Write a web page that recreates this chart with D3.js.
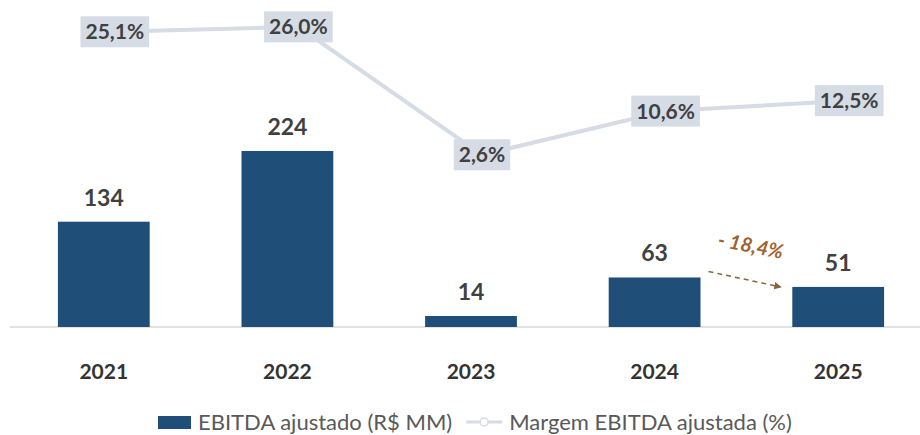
<!DOCTYPE html>
<html>
<head>
<meta charset="utf-8">
<script src="https://cdn.jsdelivr.net/npm/d3@7"></script>
<style>
  html, body { margin: 0; padding: 0; background: #fff; }
  svg { display: block; font-family: Lato, "Open Sans", sans-serif; }
</style>
</head>
<body>
<div id="chart"></div>
<script>
// EBITDA ajustado x margem

const years = ['2021', '2022', '2023', '2024', '2025'];
const ebitda = [134, 224, 14, 63, 51];            // R$ MM
const margem = [25.1, 26.0, 2.6, 10.6, 12.5];     // %
const ebitdaLabels = ['134', '224', '14', '63', '51'];
const margemLabels = ['25,1%', '26,0%', '2,6%', '10,6%', '12,5%'];
const variacaoLabel = '- 18,4%';
const legendLabels = ['EBITDA ajustado (R$ MM)', 'Margem EBITDA ajustada (%)'];

const W = 920, H = 435;
const barColor = '#1f4e79';
const lineColor = '#d6dce5';
const textColor = '#404040';
const brown = '#a0622d';

const svg = d3.select('#chart').append('svg')
    .attr('width', W)
    .attr('height', H);

const x = d3.scaleBand()
    .domain(years)
    .range([12, 930])
    .paddingInner(0.5)
    .paddingOuter(0.25);

const yBar = d3.scaleLinear().domain([0, 240]).range([327, 138.4]);
const yLine = d3.scaleLinear().domain([0, 30]).range([169, 5]);
const lineShift = 11;

// linha de base
svg.append('line')
    .attr('x1', 10).attr('x2', W)
    .attr('y1', yBar(0)).attr('y2', yBar(0))
    .style('stroke', '#d9d9d9')
    .style('stroke-width', 1.5);

// barras
svg.selectAll('.bar')
    .data(ebitda)
    .enter()
    .append('rect')
    .attr('class', 'bar')
    .attr('x', (d, i) => x(years[i]))
    .attr('y', d => yBar(d))
    .attr('width', x.bandwidth())
    .attr('height', d => yBar(0) - yBar(d))
    .style('fill', barColor);

svg.selectAll('.bar-label')
    .data(ebitda)
    .enter()
    .append('text')
    .attr('class', 'bar-label')
    .attr('x', (d, i) => x(years[i]) + x.bandwidth() / 2)
    .attr('y', d => yBar(d) - 16)
    .attr('text-anchor', 'middle')
    .style('font-size', '23px')
    .style('font-weight', 700)
    .style('fill', textColor)
    .text((d, i) => ebitdaLabels[i]);

// eixo x (anos)
const xAxis = svg.append('g')
    .attr('transform', `translate(0,${yBar(0)})`)
    .call(d3.axisBottom(x).tickSize(0).tickPadding(37));
xAxis.select('.domain').remove();
xAxis.selectAll('text')
    .style('font-family', 'Lato, sans-serif')
    .style('font-size', '21px')
    .style('font-weight', 700)
    .style('fill', '#333');

// linha da margem
const lineGen = d3.line()
    .x((d, i) => x(years[i]) + x.bandwidth() / 2 + lineShift)
    .y(d => yLine(d));

svg.append('path')
    .datum(margem)
    .attr('d', lineGen)
    .style('fill', 'none')
    .style('stroke', lineColor)
    .style('stroke-width', 4);

const mLabels = svg.selectAll('.m-label')
    .data(margem)
    .enter()
    .append('g')
    .attr('class', 'm-label')
    .attr('transform', (d, i) => `translate(${x(years[i]) + x.bandwidth() / 2 + lineShift},${yLine(d)})`);

mLabels.append('rect')
    .style('fill', lineColor);

mLabels.append('text')
    .attr('text-anchor', 'middle')
    .attr('dy', '0.36em')
    .style('font-size', '21px')
    .style('font-weight', 700)
    .style('fill', textColor)
    .text((d, i) => margemLabels[i]);

mLabels.each(function() {
    const g = d3.select(this);
    const w = g.select('text').node().getComputedTextLength() + 10;
    const h = 31;
    g.select('rect')
        .attr('x', -w / 2).attr('y', -h / 2)
        .attr('width', w).attr('height', h);
});

// variação 2024 -> 2025
svg.append('defs').append('marker')
    .attr('id', 'arrow')
    .attr('viewBox', '0 0 10 10')
    .attr('refX', 8).attr('refY', 5)
    .attr('markerWidth', 5).attr('markerHeight', 5)
    .attr('orient', 'auto')
    .append('path')
    .attr('d', 'M0,0 L10,5 L0,10 z')
    .style('fill', '#8a6441');

const ax1 = x('2024') + x.bandwidth() + 8;
const ay1 = yBar(ebitda[3]) - 6;
const ax2 = x('2025') - 12;
const ay2 = yBar(ebitda[4]);

svg.append('line')
    .attr('x1', ax1).attr('y1', ay1)
    .attr('x2', ax2).attr('y2', ay2)
    .style('stroke', '#8a6441')
    .style('stroke-width', 1.5)
    .style('stroke-dasharray', '5,4')
    .attr('marker-end', 'url(#arrow)');

svg.append('text')
    .attr('transform', `translate(${(ax1 + ax2) / 2 + 5},${ay1 - 19}) rotate(11)`)
    .attr('text-anchor', 'middle')
    .style('font-size', '20px')
    .style('font-weight', 700)
    .style('font-style', 'italic')
    .style('fill', brown)
    .text(variacaoLabel);

// legenda
const legend = svg.append('g').attr('transform', 'translate(158,422)');

legend.append('rect')
    .attr('x', 0).attr('y', -6)
    .attr('width', 33).attr('height', 13)
    .style('fill', barColor);

const t1 = legend.append('text')
    .attr('x', 40).attr('dy', '0.36em')
    .style('font-size', '22px')
    .style('fill', '#595959')
    .text(legendLabels[0]);

const l2x = 40 + t1.node().getComputedTextLength() + 14;

legend.append('line')
    .attr('x1', l2x).attr('x2', l2x + 36)
    .attr('y1', 0).attr('y2', 0)
    .style('stroke', lineColor)
    .style('stroke-width', 3);

legend.append('circle')
    .attr('cx', l2x + 18).attr('cy', 0).attr('r', 4)
    .style('fill', '#fff')
    .style('stroke', lineColor)
    .style('stroke-width', 1.5);

legend.append('text')
    .attr('x', l2x + 43).attr('dy', '0.36em')
    .style('font-size', '22px')
    .style('fill', '#595959')
    .text(legendLabels[1]);
</script>
</body>
</html>
